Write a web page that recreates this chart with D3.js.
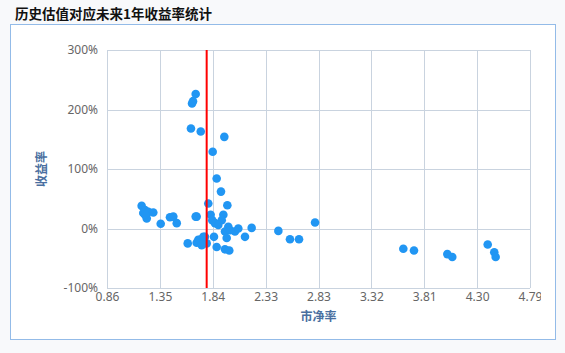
<!DOCTYPE html>
<html>
<head>
<meta charset="utf-8">
<script src="https://cdn.jsdelivr.net/npm/d3@7"></script>
<style>
    body { margin: 0; background: #f8f9fb; font-family: "Noto Sans CJK SC", "Noto Sans", sans-serif; }
</style>
</head>
<body>
<div id="chart"></div>
<script>

// price-to-book of each historical point
let pbValues = [1.684, 1.650, 1.659, 1.640, 1.731, 1.950, 1.842, 1.879, 1.919, 1.801,
    1.978, 1.693, 1.823, 1.838, 1.941, 1.926, 1.863, 1.894, 1.987, 1.956,
    2.003, 2.049, 2.080, 2.204, 2.142, 1.972, 1.854, 1.879, 1.956, 1.996,
    1.708, 1.740, 1.755, 1.786, 1.182, 1.213, 1.197, 1.244, 1.290, 1.229,
    1.213, 1.359, 1.445, 1.476, 1.508, 1.684, 1.610, 1.693, 1.724, 1.740,
    1.770, 2.452, 2.560, 2.644, 2.793, 3.613, 3.712, 4.022, 4.068, 4.397,
    4.458, 4.471];

// return over the following year, in %
let returnValues = [226, 210, 214, 168, 163, 154, 129, 84, 62, 42,
    39, 20, 23, 14, 23, 14, 9, 6, 3, -5,
    -3, -5, 0, 1, -14, -16, -14, -31, -35, -37,
    -19, -22, -14, -25, 38, 31, 26, 28, 27, 17,
    23, 8, 19, 20, 9, 20, -25, -24, -19, -28,
    -14, -4, -18, -18, 10, -34, -37, -43, -48, -27,
    -40, -48];

let currentPb = 1.786;

let xTicks = [0.86, 1.35125, 1.8425, 2.33375, 2.825, 3.31625, 3.8075, 4.29875, 4.79];
let yTicks = [-100, 0, 100, 200, 300];

let points = pbValues.map(function(d, i) {
    return { pb: d, ret: returnValues[i] };
});

let W = 565, H = 353;
let margin = { top: 50, right: 35, bottom: 65, left: 107 };
let width = 530 - margin.left,
    height = 288 - margin.top;

let svg = d3.select("#chart").append("svg")
    .attr("width", W)
    .attr("height", H);

// panel
svg.append("rect")
    .attr("x", 10.5).attr("y", 24.5)
    .attr("width", 545).attr("height", 315)
    .attr("fill", "#fff")
    .attr("stroke", "#93bbe8");

svg.append("text")
    .attr("x", 15)
    .attr("y", 19)
    .attr("font-size", "13.5px")
    .attr("font-weight", "bold")
    .attr("fill", "#111")
    .text("历史估值对应未来1年收益率统计");

svg.append("defs").append("clipPath")
    .attr("id", "clip")
    .append("rect")
    .attr("x", 0).attr("y", 0)
    .attr("width", 541).attr("height", H);

let outer = svg.append("g").attr("clip-path", "url(#clip)");

let g = outer.append("g")
    .attr("transform", "translate(" + margin.left + "," + margin.top + ")");

let x = d3.scaleLinear()
    .domain([0.86, 4.79])
    .range([0, width]);

let y = d3.scaleLinear()
    .domain([-100, 300])
    .range([height, 0]);

// grid
g.append("g")
    .selectAll("line")
    .data(xTicks)
    .enter().append("line")
    .attr("x1", d => Math.round(x(d)) + 0.5)
    .attr("x2", d => Math.round(x(d)) + 0.5)
    .attr("y1", 0)
    .attr("y2", height)
    .attr("stroke", "#c9d3df");

g.append("g")
    .selectAll("line")
    .data(yTicks)
    .enter().append("line")
    .attr("x1", 0)
    .attr("x2", width)
    .attr("y1", d => Math.round(y(d)) + 0.5)
    .attr("y2", d => Math.round(y(d)) + 0.5)
    .attr("stroke", "#c9d3df");

let xAxis = d3.axisBottom(x)
    .tickValues(xTicks)
    .tickSize(0)
    .tickPadding(4)
    .tickFormat(d => d.toFixed(2));

let yAxis = d3.axisLeft(y)
    .tickValues(yTicks)
    .tickSize(0)
    .tickPadding(9)
    .tickFormat(d => d + "%");

g.append("g")
    .attr("class", "x-axis axis")
    .attr("transform", "translate(0," + height + ")")
    .call(xAxis);

g.append("g")
    .attr("class", "y-axis axis")
    .call(yAxis);

g.selectAll(".axis .domain").remove();
g.selectAll(".axis text")
    .attr("fill", "#666")
    .style("font-size", "12px")
    .style("font-family", "'Noto Sans', sans-serif");

// axis titles
g.append("text")
    .attr("x", x(2.825))
    .attr("y", height + 33)
    .attr("text-anchor", "middle")
    .attr("font-size", "12px")
    .attr("font-weight", "bold")
    .attr("fill", "#4a6fa0")
    .text("市净率");

g.append("text")
    .attr("transform", "translate(-61," + y(100) + ") rotate(-90)")
    .attr("text-anchor", "middle")
    .attr("font-size", "12px")
    .attr("font-weight", "bold")
    .attr("fill", "#4a6fa0")
    .text("收益率");

// scatter
g.append("g")
    .selectAll("circle")
    .data(points)
    .enter().append("circle")
    .attr("cx", d => x(d.pb))
    .attr("cy", d => y(d.ret))
    .attr("r", 4.3)
    .attr("fill", "#2196f3");

// current valuation marker
g.append("line")
    .attr("x1", x(currentPb))
    .attr("x2", x(currentPb))
    .attr("y1", 0)
    .attr("y2", height)
    .attr("stroke", "#ff0000")
    .attr("stroke-width", 2);

</script>
</body>
</html>
